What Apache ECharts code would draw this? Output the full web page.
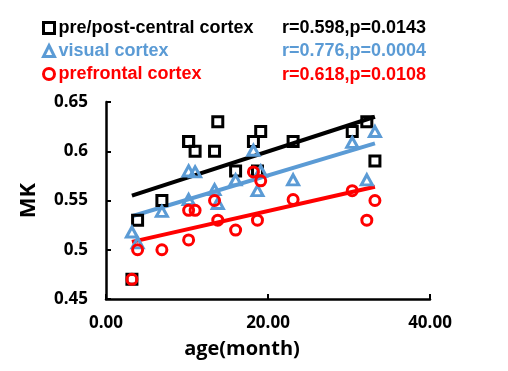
<!DOCTYPE html>
<html>
<head>
<meta charset="utf-8">
<script src="https://cdn.jsdelivr.net/npm/echarts@6/dist/echarts.min.js"></script>
<style>
  html, body { margin: 0; padding: 0; background: #fff; }
  #chart { width: 508px; height: 371px; }
</style>
</head>
<body>
<div id="chart"></div>
<script>
// ages of the subjects (months)
var ages = [3.2, 3.9, 6.9, 10.2, 10.2, 11.0, 13.4, 13.8, 16.0, 18.2, 18.7, 19.1, 23.1, 30.4, 32.2, 33.2];

// MK values per region
var sensorimotor = [0.47, 0.53, 0.55, 0.61, 0.61, 0.60, 0.60, 0.63, 0.58, 0.61, 0.58, 0.62, 0.61, 0.62, 0.63, 0.59];
var visual = [0.518, 0.507, 0.539, 0.58, 0.551, 0.579, 0.561, 0.547, 0.571, 0.601, 0.56, 0.58, 0.571, 0.609, 0.571, 0.62];
var prefrontal = [0.47, 0.50, 0.50, 0.54, 0.51, 0.54, 0.55, 0.53, 0.52, 0.579, 0.53, 0.57, 0.551, 0.56, 0.53, 0.55];

// fitted lines, read at the first and last age
var fitAges = [3.2, 33.2];
var sensorimotorFit = [0.555, 0.635];
var visualFit = [0.534, 0.608];
var prefrontalFit = [0.508, 0.564];

var names = ['pre/post-central cortex', 'visual cortex', 'prefrontal cortex'];
var stats = ['r=0.598,p=0.0143', 'r=0.776,p=0.0004', 'r=0.618,p=0.0108'];
var colors = ['#000000', '#5B9BD5', '#FF0000'];
var symbols = ['rect', 'triangle', 'circle'];

function pairs(xs, ys) {
  return xs.map(function (x, i) { return [x, ys[i]]; });
}

var chart = echarts.init(document.getElementById('chart'));

var axisFont = { fontFamily: 'Open Sans', fontWeight: 'bold', fontSize: 17, color: '#000' };

function dots(i, values, size) {
  return {
    name: names[i], type: 'scatter', data: pairs(ages, values),
    symbol: symbols[i], symbolSize: size,
    itemStyle: { color: 'rgba(255,255,255,0)', opacity: 1, borderColor: colors[i], borderWidth: 3 },
    z: 3 + i
  };
}

function fit(i, values) {
  return {
    name: names[i], type: 'line', data: pairs(fitAges, values),
    symbol: 'none', itemStyle: { color: colors[i] },
    lineStyle: { color: colors[i], width: 4 }, z: 1
  };
}

chart.setOption({
  animation: false,
  grid: { left: 106, right: 78, top: 102, bottom: 72 },
  legend: {
    left: 42,
    top: 19,
    padding: 0,
    orient: 'vertical',
    itemWidth: 11,
    itemHeight: 11,
    itemGap: 5,
    data: names.map(function (n, i) {
      return {
        name: n,
        icon: symbols[i],
        itemStyle: { color: '#fff', borderColor: colors[i], borderWidth: 3 },
        textStyle: { color: colors[i] }
      };
    }),
    textStyle: { fontFamily: 'Liberation Sans', fontWeight: 'bold', fontSize: 18, padding: [0, 0, 0, -1] }
  },
  graphic: stats.map(function (s, i) {
    return {
      type: 'text',
      left: 282,
      top: 19 + i * 23 + (i === 2 ? 1 : 0),
      style: { text: s, fill: colors[i], font: 'bold 18px "Liberation Sans"' }
    };
  }),
  xAxis: {
    type: 'value',
    min: 0,
    max: 40,
    interval: 20,
    name: 'age(month)',
    nameLocation: 'middle',
    nameGap: 40,
    nameTextStyle: { fontFamily: 'Open Sans', fontWeight: 'bold', fontSize: 20, color: '#000', padding: [0, 52, 0, 0] },
    axisLine: { lineStyle: { color: '#000', width: 2.5 } },
    axisTick: { inside: true, length: 5, lineStyle: { color: '#000', width: 2 } },
    axisLabel: Object.assign({ margin: 16, formatter: function (v) { return v.toFixed(2); } }, axisFont),
    splitLine: { show: false }
  },
  yAxis: {
    type: 'value',
    min: 0.45,
    max: 0.65,
    interval: 0.05,
    name: 'MK',
    nameLocation: 'middle',
    nameGap: 66,
    nameTextStyle: { fontFamily: 'Open Sans', fontWeight: 'bold', fontSize: 22, color: '#000' },
    axisLine: { show: true, lineStyle: { color: '#000', width: 2.5 } },
    axisTick: { show: true, inside: true, length: 5, lineStyle: { color: '#000', width: 2 } },
    axisLabel: Object.assign({ margin: 18 }, axisFont),
    splitLine: { show: false }
  },
  series: [
    dots(0, sensorimotor, 10),
    dots(1, visual, [11, 10]),
    dots(2, prefrontal, 10),
    fit(0, sensorimotorFit),
    fit(1, visualFit),
    fit(2, prefrontalFit)
  ]
});
</script>
</body>
</html>
